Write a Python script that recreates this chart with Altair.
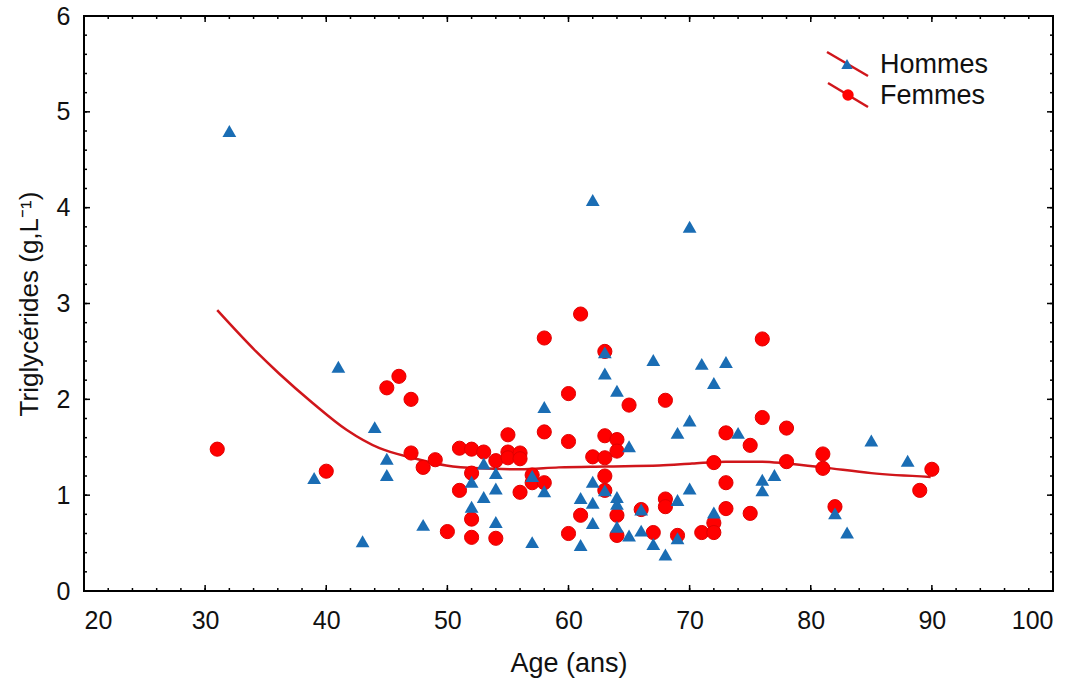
import altair as alt
import pandas as pd

# Hommes (triangles)
h_age = [32, 39, 41, 43, 44, 45, 45, 48, 52, 52, 53, 53, 54, 54, 54, 57, 57, 58, 58, 61, 61,
         62, 62, 62, 62, 63, 63, 63, 64, 64, 64, 64, 65, 65, 66, 66, 67, 67, 68, 69, 69, 69,
         70, 70, 70, 71, 72, 72, 73, 74, 76, 76, 77, 82, 83, 85, 88]
h_tg = [4.80, 1.18, 2.34, 0.52, 1.71, 1.38, 1.21, 0.69, 1.14, 0.88, 1.33, 0.98, 1.23, 1.07, 0.72,
        0.51, 1.20, 1.92, 1.04, 0.97, 0.48, 4.08, 1.14, 0.92, 0.71, 2.49, 2.27, 1.05, 2.09, 0.98,
        0.91, 0.67, 1.51, 0.58, 0.85, 0.63, 2.41, 0.49, 0.38, 1.65, 0.95, 0.55, 3.80, 1.78, 1.07,
        2.37, 2.17, 0.82, 2.39, 1.65, 1.16, 1.05, 1.21, 0.81, 0.61, 1.57, 1.36]

# Femmes (circles)
f_age = [31, 40, 45, 46, 47, 47, 48, 49, 50, 51, 51, 52, 52, 52, 52, 53, 54, 54, 55, 55, 55,
         56, 56, 56, 57, 57, 58, 58, 58, 60, 60, 60, 61, 61, 62, 63, 63, 63, 63, 63, 64, 64,
         64, 64, 65, 66, 67, 68, 68, 68, 69, 71, 72, 72, 72, 73, 73, 73, 75, 75, 76, 76, 78,
         78, 81, 81, 82, 89, 90]
f_tg = [1.48, 1.25, 2.12, 2.24, 2.00, 1.44, 1.29, 1.37, 0.62, 1.49, 1.05, 1.48, 1.23, 0.75, 0.56,
        1.45, 1.36, 0.55, 1.63, 1.45, 1.39, 1.44, 1.38, 1.03, 1.21, 1.13, 2.64, 1.66, 1.13, 2.06,
        1.56, 0.60, 2.89, 0.79, 1.40, 2.50, 1.62, 1.39, 1.20, 1.05, 1.58, 1.46, 0.79, 0.58, 1.94,
        0.85, 0.61, 1.99, 0.96, 0.88, 0.58, 0.61, 1.34, 0.71, 0.61, 1.65, 1.13, 0.86, 1.52, 0.81,
        2.63, 1.81, 1.70, 1.35, 1.43, 1.28, 0.88, 1.05, 1.27]

# Smoothed curve
c_age = [31, 34.2, 36.1, 38.9, 41.7, 44.4, 47.1, 49.9, 52.6, 56, 59.2, 63, 67.5, 70.2,
         73, 76, 78, 81, 85, 89.9]
c_tg = [2.93, 2.50, 2.27, 1.96, 1.68, 1.49, 1.39, 1.31, 1.28, 1.27, 1.29, 1.30, 1.31,
        1.33, 1.35, 1.35, 1.33, 1.29, 1.23, 1.19]

x_major = [20, 30, 40, 50, 60, 70, 80, 90, 100]
x_minor = [v for v in range(20, 101, 2)]
y_major = [0, 1, 2, 3, 4, 5, 6]
y_minor = [round(i * 0.2, 1) for i in range(0, 31)]

W, H = 969, 575
FONT = "Liberation Sans"
RED_LINE = "#d0161b"
BLUE = "#1a6db4"
xs = alt.Scale(domain=[20, 100], nice=False, zero=False)
ys = alt.Scale(domain=[0, 6], nice=False)

hom = pd.DataFrame({"age": h_age, "tg": h_tg})
fem = pd.DataFrame({"age": f_age, "tg": f_tg})
cur = pd.DataFrame({"age": c_age, "tg": c_tg})

xenc = alt.X("age:Q", scale=xs, title="Age (ans)",
             axis=alt.Axis(values=x_major, format="d", tickSize=0, domain=False, grid=False,
                           labelPadding=17, titlePadding=17, labelFontSize=25,
                           titleFontSize=27))
yenc = alt.Y("tg:Q", scale=ys, title="Triglycérides (g,L⁻¹)",
             axis=alt.Axis(values=y_major, format="d", tickSize=0, domain=False, grid=False,
                           labelPadding=14, titlePadding=14, labelFontSize=25,
                           titleFontSize=26))

line = alt.Chart(cur).mark_line(color=RED_LINE, strokeWidth=2.5, interpolate="monotone").encode(
    x=xenc, y=yenc)
circles = alt.Chart(fem).mark_point(shape="circle", filled=True, size=200, color="#ff0000",
                                    stroke="#e00000", strokeWidth=1, opacity=1).encode(
    x="age:Q", y="tg:Q")
tris = alt.Chart(hom).mark_point(shape="triangle-up", filled=True, size=190, color=BLUE,
                                 opacity=1).encode(x="age:Q", y="tg:Q")

def ticks_x(vals, length, top):
    df = pd.DataFrame({"age": vals})
    if top:
        return alt.Chart(df).mark_rule(color="black", strokeWidth=1.5).encode(
            x=alt.X("age:Q", scale=xs), y=alt.value(0), y2=alt.value(length))
    return alt.Chart(df).mark_rule(color="black", strokeWidth=1.5).encode(
        x=alt.X("age:Q", scale=xs), y=alt.value(H), y2=alt.value(H - length))

def ticks_y(vals, length, right):
    df = pd.DataFrame({"tg": vals})
    if right:
        return alt.Chart(df).mark_rule(color="black", strokeWidth=1.5).encode(
            y=alt.Y("tg:Q", scale=ys), x=alt.value(W), x2=alt.value(W - length))
    return alt.Chart(df).mark_rule(color="black", strokeWidth=1.5).encode(
        y=alt.Y("tg:Q", scale=ys), x=alt.value(0), x2=alt.value(length))

tick_layers = [
    ticks_x(x_minor, 3, False), ticks_x(x_major, 6, False),
    ticks_x(x_minor, 3, True), ticks_x(x_major, 6, True),
    ticks_y(y_minor, 3, False), ticks_y(y_major, 6, False),
    ticks_y(y_minor, 3, True), ticks_y(y_major, 6, True),
]

# Legend (drawn manually)
leg_h = pd.DataFrame({"label": ["Hommes"]})
leg_f = pd.DataFrame({"label": ["Femmes"]})
legend = [
    alt.Chart(leg_h).mark_rule(color=RED_LINE, strokeWidth=2.5).encode(
        x=alt.value(743), y=alt.value(36), x2=alt.value(784), y2=alt.value(60)),
    alt.Chart(leg_h).mark_point(shape="triangle-up", filled=True, size=130, color=BLUE,
                                opacity=1).encode(x=alt.value(763), y=alt.value(48)),
    alt.Chart(leg_h).mark_text(align="left", baseline="middle", fontSize=27, font=FONT,
                               color="#111").encode(x=alt.value(796), y=alt.value(49),
                                                    text="label:N"),
    alt.Chart(leg_f).mark_rule(color=RED_LINE, strokeWidth=2.5).encode(
        x=alt.value(744), y=alt.value(67), x2=alt.value(784), y2=alt.value(91)),
    alt.Chart(leg_f).mark_point(shape="circle", filled=True, size=130, color="#ff0000",
                                opacity=1).encode(x=alt.value(764), y=alt.value(79)),
    alt.Chart(leg_f).mark_text(align="left", baseline="middle", fontSize=27, font=FONT,
                               color="#111").encode(x=alt.value(796), y=alt.value(80),
                                                    text="label:N"),
]

chart = alt.layer(line, circles, tris, *tick_layers, *legend).properties(
    width=W, height=H,
    autosize=alt.AutoSizeParams(type="none"),
    padding={"left": 84, "top": 16, "right": 28, "bottom": 91},
).configure_view(stroke="black", strokeWidth=2).configure_axis(
    labelFont=FONT, titleFont=FONT,
    labelColor="#111", titleColor="#111", titleFontWeight="normal"
)

chart.save("out.html", embed_options={"renderer": "svg", "actions": False})
